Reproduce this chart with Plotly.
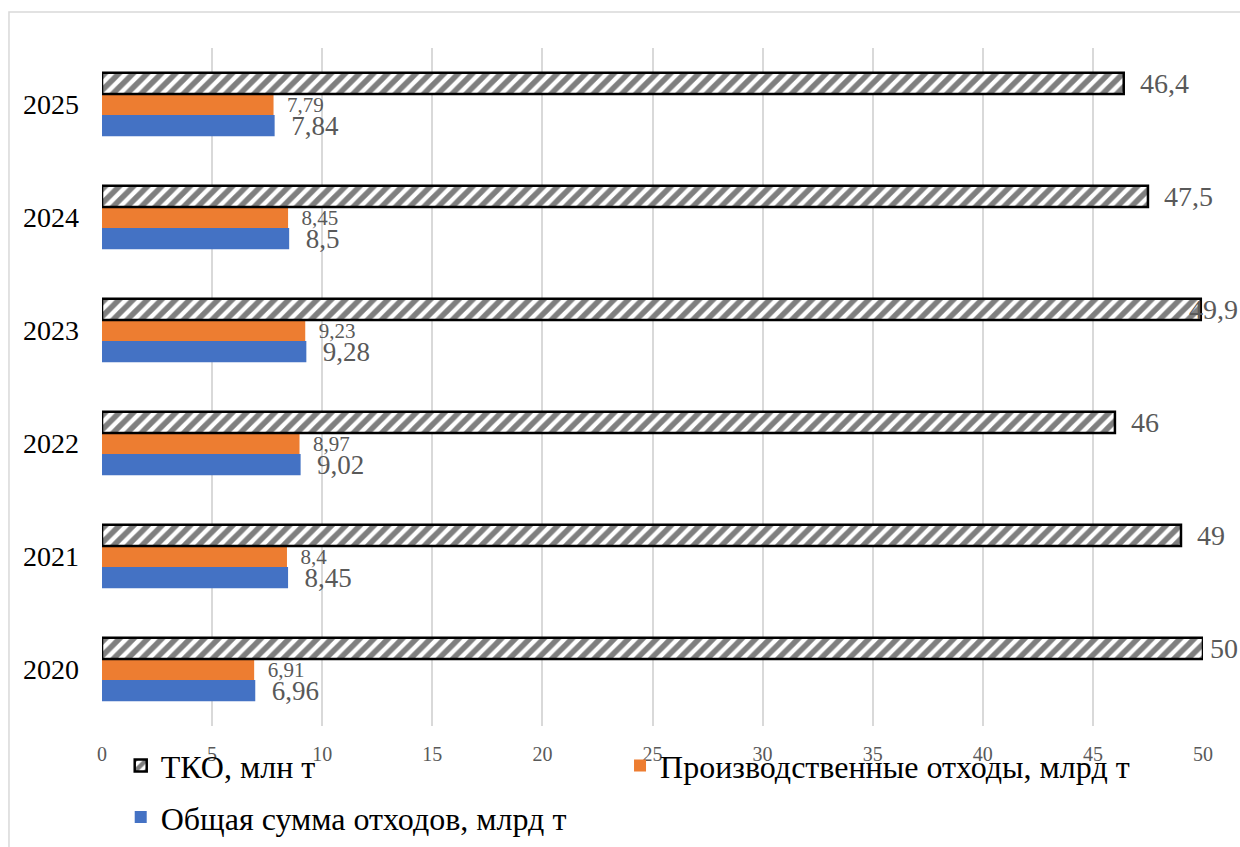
import plotly.graph_objects as go

years = ["2020", "2021", "2022", "2023", "2024", "2025"]
tko = [50, 49, 46, 49.9, 47.5, 46.4]
prod = [6.91, 8.4, 8.97, 9.23, 8.45, 7.79]
total = [6.96, 8.45, 9.02, 9.28, 8.5, 7.84]

name_tko = "ТКО, млн т"
name_prod = "Производственные отходы, млрд т"
name_total = "Общая сумма отходов, млрд т"

FONT = "Liberation Serif"
LABEL_GRAY = "#595959"
PAD = "\u00a0\u00a0"
X_MAX = 50


def num(v):
    return ("%g" % v).replace(".", ",")


fig = go.Figure()
fig.add_trace(go.Bar(
    y=years, x=total, orientation="h", name=name_total,
    marker=dict(color="#4472C4", line=dict(width=0)),
    text=[PAD + num(v) for v in total], textposition="outside",
    textfont=dict(family=FONT, size=27, color=LABEL_GRAY),
    cliponaxis=False, constraintext="none", legend="legend2", showlegend=True,
))
fig.add_trace(go.Bar(
    y=years, x=prod, orientation="h", name=name_prod,
    marker=dict(color="#ED7D31", line=dict(width=0)),
    text=[PAD + num(v) for v in prod], textposition="outside",
    textfont=dict(family=FONT, size=21, color=LABEL_GRAY),
    cliponaxis=False, constraintext="none", legend="legend3", showlegend=True,
))
fig.add_trace(go.Bar(
    y=years, x=tko, orientation="h", name=name_tko,
    marker=dict(color="white", line=dict(color="black", width=2.5),
                pattern=dict(shape="/", fgcolor="black", bgcolor="white",
                             size=10, solidity=0.55)),
    cliponaxis=False, legend="legend", showlegend=True,
))

# TKO value labels: after the bar end, clamped to the chart edge like Excel
annotations = []
for i, v in enumerate(tko):
    common = dict(y=i, yref="y", yanchor="middle", showarrow=False, yshift=21,
                  text=num(v), font=dict(family=FONT, size=28, color=LABEL_GRAY))
    if v >= X_MAX - 0.5:
        annotations.append(dict(x=1.0337, xref="paper", xanchor="right", **common))
    else:
        annotations.append(dict(x=v, xref="x", xanchor="left", xshift=14, **common))

legend_font = dict(family=FONT, size=32, color="black")

fig.update_layout(
    width=1240, height=847,
    showlegend=True,
    margin=dict(l=102, r=37, t=48, b=121, autoexpand=False),
    paper_bgcolor="white", plot_bgcolor="white",
    barmode="group", bargap=0.44, bargroupgap=0,
    font=dict(family=FONT, color="black"),
    xaxis=dict(range=[0, X_MAX], dtick=5, showgrid=True, gridcolor="#d9d9d9",
               gridwidth=1.5, zeroline=False, showline=False, ticks="",
               tickfont=dict(family=FONT, size=20, color=LABEL_GRAY),
               ticklabelstandoff=14),
    yaxis=dict(type="category", range=[-0.5, len(years) - 0.5], showgrid=False,
               zeroline=False, showline=False, ticks="",
               tickfont=dict(family=FONT, size=28, color="black"),
               ticklabelstandoff=22),
    legend=dict(orientation="h", x=0.017, xanchor="left", y=-0.018, yanchor="top",
                font=legend_font, bgcolor="rgba(0,0,0,0)", visible=True),
    legend3=dict(orientation="h", x=0.4705, xanchor="left", y=-0.018, yanchor="top",
                 font=legend_font, bgcolor="rgba(0,0,0,0)", visible=True),
    legend2=dict(orientation="h", x=0.017, xanchor="left", y=-0.094, yanchor="top",
                 font=legend_font, bgcolor="rgba(0,0,0,0)", visible=True),
    annotations=annotations,
    shapes=[dict(type="rect", xref="paper", yref="paper",
                 x0=-0.0845, x1=1.2, y0=-0.4, y1=1.053,
                 line=dict(color="#d9d9d9", width=1.5), fillcolor="rgba(0,0,0,0)",
                 layer="below")],
)

fig.write_html("out.html")
